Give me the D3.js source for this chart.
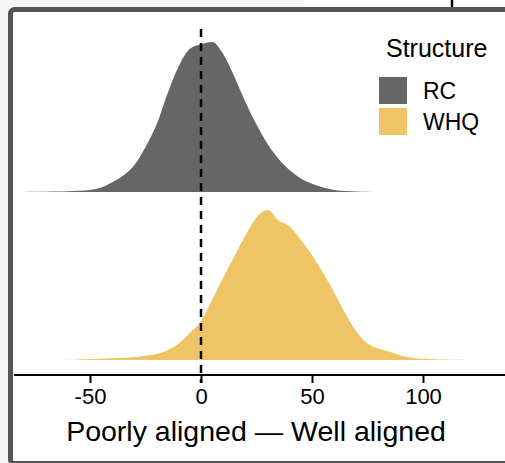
<!DOCTYPE html>
<html>
<head>
<meta charset="utf-8">
<script src="https://cdn.jsdelivr.net/npm/d3@7"></script>
<style>
  html, body { margin: 0; padding: 0; background: #ffffff; }
  svg { display: block; font-family: "Liberation Sans", Arial, Helvetica, sans-serif; }
</style>
</head>
<body>
<script>
// Data
const groups = ["RC", "WHQ"];
const groupColors = ["#666666", "#EEC465"];
const xTicks = [-50, 0, 50, 100];
const axisTitle = "Poorly aligned \u2014 Well aligned";
const legendTitle = "Structure";

// relative density (peak = 1) sampled every 5 units
const rcX = [-80, -75, -70, -65, -60, -55, -50, -45, -40, -35, -30, -25, -20, -15, -10, -5, 0, 5,
             10, 15, 20, 25, 30, 35, 40, 45, 50, 55, 60, 65, 70, 75, 80];
const rcDensity = [0, 0.001, 0.002, 0.003, 0.005, 0.008, 0.014, 0.03, 0.065, 0.11, 0.18, 0.30, 0.45,
                   0.66, 0.84, 0.955, 0.985, 1.0, 0.92, 0.77, 0.60, 0.45, 0.32, 0.22, 0.145, 0.09,
                   0.055, 0.03, 0.014, 0.007, 0.004, 0.002, 0];

const whqX = [-65, -60, -55, -50, -45, -40, -35, -30, -25, -20, -15, -10, -5, 0, 5, 10, 15, 20, 25,
              30, 35, 40, 45, 50, 55, 60, 65, 70, 75, 80, 85, 90, 95, 100, 105, 110, 115, 120];
const whqDensity = [0, 0.002, 0.004, 0.006, 0.008, 0.011, 0.015, 0.02, 0.028, 0.04, 0.065, 0.11,
                    0.18, 0.26, 0.40, 0.55, 0.69, 0.83, 0.95, 1.0, 0.93, 0.89, 0.80, 0.70, 0.58,
                    0.45, 0.31, 0.19, 0.11, 0.075, 0.055, 0.03, 0.015, 0.008, 0.005, 0.003, 0.001, 0];

const W = 505, H = 463;

const svg = d3.select("body")
    .append("svg")
    .attr("width", W)
    .attr("height", H);

// outside of the frame (screenshot surroundings)
svg.append("rect").attr("x", 0).attr("y", 0).attr("width", 304).attr("height", 8).attr("fill", "#f6f6f6");
svg.append("rect").attr("x", 0).attr("y", 0).attr("width", 9).attr("height", H).attr("fill", "#f6f6f6");
svg.append("line")
    .attr("x1", 452).attr("x2", 452).attr("y1", 0).attr("y2", 8)
    .attr("stroke", "#000").attr("stroke-width", 2.5);

// scales
const x = d3.scaleLinear().domain([0, 50]).range([201, 312]);
const baseline = d3.scalePoint().domain(groups).range([192, 360]);
const height = d3.scaleLinear().domain([0, 1]).range([0, 150]);
const color = d3.scaleOrdinal().domain(groups).range(groupColors);

const series = [
    { key: "RC", xs: rcX, ys: rcDensity },
    { key: "WHQ", xs: whqX, ys: whqDensity }
];

// density ridges
const plot = svg.append("g").attr("id", "ridges");
series.forEach(s => {
    const pts = s.xs.map((v, i) => [v, s.ys[i]]);
    const area = d3.area()
        .curve(d3.curveMonotoneX)
        .x(d => x(d[0]))
        .y0(baseline(s.key))
        .y1(d => baseline(s.key) - height(d[1]));
    plot.append("path")
        .datum(pts)
        .attr("d", area)
        .attr("fill", color(s.key));
});

// x axis
const axisY = 375;
const axis = svg.append("g")
    .attr("transform", `translate(0,${axisY})`)
    .call(d3.axisBottom(x).tickValues(xTicks).tickSize(8).tickPadding(5).tickFormat(d => String(d)));
axis.select(".domain").remove();
axis.append("line")
    .attr("x1", 14).attr("x2", W)
    .attr("stroke", "#000").attr("stroke-width", 2);
axis.selectAll(".tick line").attr("stroke", "#000").attr("stroke-width", 2);
axis.selectAll(".tick text")
    .attr("fill", "#000")
    .attr("font-size", 22)
    .attr("font-family", "Liberation Sans, Arial, sans-serif");

svg.append("text")
    .attr("x", 256).attr("y", 441)
    .attr("text-anchor", "middle")
    .attr("font-size", 28.5)
    .attr("fill", "#000")
    .text(axisTitle);

// reference line at zero
svg.append("line")
    .attr("x1", x(0)).attr("x2", x(0))
    .attr("y1", 29).attr("y2", 383)
    .attr("stroke", "#000")
    .attr("stroke-width", 2.5)
    .attr("stroke-dasharray", "8,6");

// legend
const legend = svg.append("g").attr("transform", "translate(379,57)");
legend.append("text")
    .attr("x", 7).attr("y", 0)
    .attr("font-size", 25)
    .attr("fill", "#000")
    .text(legendTitle);
groups.forEach((g, i) => {
    legend.append("rect")
        .attr("x", 0).attr("y", 20 + i * 31)
        .attr("width", 28).attr("height", 27)
        .attr("fill", color(g));
    legend.append("text")
        .attr("x", 44).attr("y", 42 + i * 31)
        .attr("font-size", 23)
        .attr("fill", "#000")
        .text(g);
});

// frame border
svg.append("rect")
    .attr("x", 10.5).attr("y", 9.5)
    .attr("width", 620).attr("height", 454)
    .attr("rx", 4)
    .attr("fill", "none")
    .attr("stroke", "#555555")
    .attr("stroke-width", 5);
</script>
</body>
</html>
